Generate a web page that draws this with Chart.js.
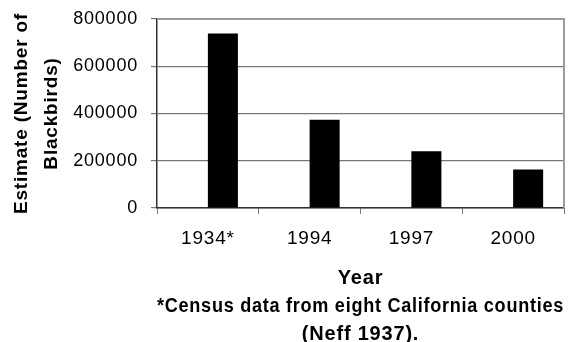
<!DOCTYPE html>
<html lang="en">
<head>
    <meta charset="UTF-8">
    <title>Blackbird estimates</title>
    <script src="https://cdn.jsdelivr.net/npm/chart.js"></script>
    <style>
        body { margin: 0; background: #fff; }
        #wrap { width: 583px; height: 342px; }
    </style>
</head>
<body>
    <div id="wrap">
        <canvas id="bird-chart" width="583" height="342"></canvas>
    </div>

    <script>
        const years = ['1934*', '1994', '1997', '2000'];
        const estimates = [739000, 374000, 240000, 163000];
        const emptySeries = [null, null, null, null];
        const yTicks = [0, 200000, 400000, 600000, 800000];
        const yTitle = ['Estimate (Number of', 'Blackbirds)'];
        const xTitle = ['Year', '*Census data from eight California counties', '(Neff 1937).'];

        // the original's text is a bit wide, and it has a grey frame top and right
        const frame = {
            id: 'frame',
            beforeDraw(chart) {
                chart.ctx.letterSpacing = '0.8px';
            },
            afterDraw(chart) {
                const { ctx, chartArea: a } = chart;
                ctx.save();
                ctx.strokeStyle = '#9a9a9a';
                ctx.lineWidth = 2;
                ctx.beginPath();
                ctx.moveTo(a.left, a.top);
                ctx.lineTo(a.right, a.top);
                ctx.lineTo(a.right, a.bottom);
                ctx.stroke();
                ctx.restore();
            }
        };

        const ctx = document.getElementById('bird-chart').getContext('2d');
        new Chart(ctx, {
            type: 'bar',
            data: {
                labels: years,
                datasets: [
                    { data: emptySeries, backgroundColor: '#000' },
                    { data: estimates, backgroundColor: '#000' }
                ]
            },
            options: {
                responsive: false,
                animation: false,
                categoryPercentage: 0.59,
                barPercentage: 1,
                layout: { padding: { top: 19, right: 19, left: 0, bottom: 0 } },
                plugins: {
                    legend: { display: false },
                    tooltip: { enabled: false }
                },
                scales: {
                    x: {
                        afterFit: (s) => { s.height = 134; s.paddingLeft = 0; s.paddingRight = 0; },
                        grid: {
                            offset: true,
                            drawOnChartArea: false,
                            color: '#777',
                            tickLength: 6
                        },
                        border: { color: '#333', width: 1.5 },
                        ticks: {
                            color: '#000',
                            padding: 13,
                            font: { family: 'Liberation Sans', size: 19 }
                        },
                        title: {
                            display: true,
                            text: xTitle,
                            color: '#000',
                            padding: { top: 0, bottom: -6 },
                            font: { family: 'Liberation Sans', size: 20, weight: 'bold', lineHeight: '28px' }
                        }
                    },
                    y: {
                        min: 0,
                        max: 800000,
                        afterFit: (s) => { s.width = 157; s.paddingTop = 0; s.paddingBottom = 0; },
                        afterBuildTicks: (s) => { s.ticks = yTicks.map(v => ({ value: v })); },
                        grid: { color: '#777', lineWidth: 1.2, tickLength: 6 },
                        border: { color: '#333', width: 1.5 },
                        ticks: {
                            color: '#000',
                            padding: 13,
                            font: { family: 'Liberation Sans', size: 18 },
                            callback: (v) => String(v)
                        },
                        title: {
                            display: true,
                            text: yTitle,
                            color: '#000',
                            padding: { top: 7, bottom: 0 },
                            font: { family: 'Liberation Sans', size: 19, weight: 'bold', lineHeight: '30px' }
                        }
                    }
                }
            },
            plugins: [frame]
        });
    </script>
</body>
</html>
